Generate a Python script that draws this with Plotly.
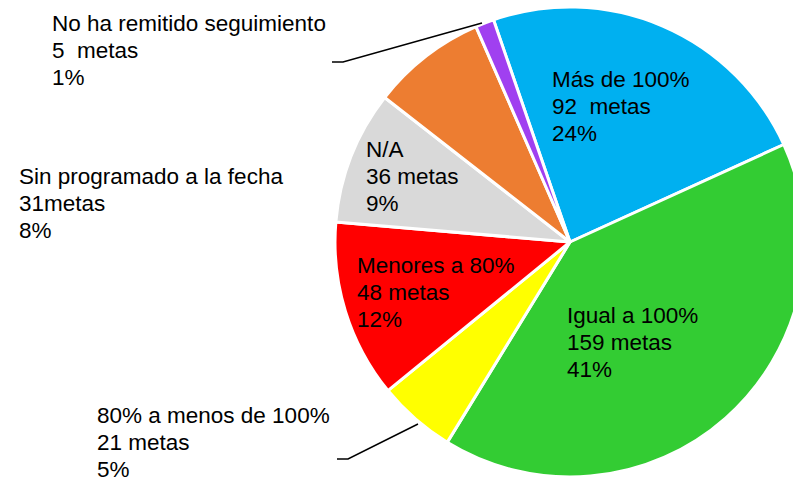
import plotly.graph_objects as go

# ---- data ----
categories = ["Más de 100%", "Igual a 100%", "80% a menos de 100%", "Menores a 80%",
              "N/A", "Sin programado a la fecha", "No ha remitido seguimiento"]
metas = [92, 159, 21, 48, 36, 31, 5]
metas_text = ["92  metas", "159 metas", "21 metas", "48 metas", "36 metas", "31metas", "5  metas"]
pct_labels = ["24%", "41%", "5%", "12%", "9%", "8%", "1%"]
colors = ["#00B0F0", "#33CC33", "#FFFF00", "#FF0000", "#D9D9D9", "#ED7D31", "#A040F0"]

W, H = 810, 478   # a little wider than the window: the pie is cut by the right edge

def px(x):
    return min(1.0, max(0.0, x / W))

def py(y):
    return min(1.0, max(0.0, 1 - y / H))

# pie geometry (pixels): centre and radius
cx, cy, r = 570, 242, 235

fig = go.Figure(go.Pie(
    labels=categories,
    values=metas,
    sort=False,
    direction="clockwise",
    rotation=-19,
    marker=dict(colors=colors, line=dict(color="white", width=3)),
    textinfo="none",
    hoverinfo="label+value",
    domain=dict(x=[px(cx - r), px(cx + r)], y=[py(cy + r), py(cy - r)]),
    showlegend=False,
))

# label positions: left x and cap-top of first line (pixels)
label_pos = [(551, 72), (566, 308), (96, 408), (356, 258), (365, 142), (18, 169), (51, 16)]
LINE = 27
FS = 22.5
CAP_OFF = 6

annotations = []
for cat, mt, pc, (lx, ly) in zip(categories, metas_text, pct_labels, label_pos):
    for k, line in enumerate([cat, mt, pc]):
        annotations.append(dict(
            x=px(lx), y=py(ly + k * LINE - CAP_OFF), xref="paper", yref="paper",
            xanchor="left", yanchor="top", align="left",
            text=line, showarrow=False, borderpad=0,
            font=dict(family="Liberation Sans, Arial, sans-serif", size=FS, color="black"),
        ))

def path(points):
    return "M " + " L ".join(f"{px(x)},{py(y)}" for x, y in points)

shapes = [
    dict(type="path", xref="paper", yref="paper",
         path=path([(482, 23), (343, 62), (332, 62)]),
         line=dict(color="black", width=1.5)),
    dict(type="path", xref="paper", yref="paper",
         path=path([(418, 424), (348, 459), (337, 459)]),
         line=dict(color="black", width=1.5)),
]

fig.update_layout(
    width=W, height=H,
    margin=dict(l=0, r=0, t=0, b=0),
    paper_bgcolor="white", plot_bgcolor="white",
    annotations=annotations, shapes=shapes,
)

fig.write_html(
    "out.html",
    config={"displayModeBar": False},
    post_script="document.body.style.margin='0';"
                "document.body.style.overflow='hidden';"
                "document.documentElement.style.overflow='hidden';",
)
